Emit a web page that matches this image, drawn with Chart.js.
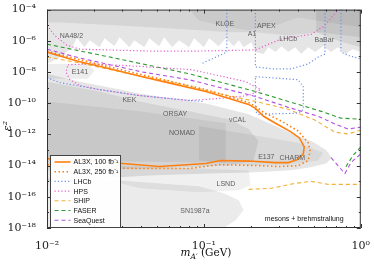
<!DOCTYPE html>
<html>
<head>
<meta charset="utf-8">
<script src="https://cdn.jsdelivr.net/npm/chart.js@4.4.1/dist/chart.umd.min.js"></script>
<style>
html, body { margin: 0; padding: 0; background: #fff; }
#chart { display: block; }
</style>
</head>
<body>
<canvas id="chart" width="374" height="264"></canvas>
<script>
// Axis ticks
const X_TICKS = [0.01, 0.1, 1];
const X_MINOR = [0.02, 0.03, 0.04, 0.05, 0.06, 0.07, 0.08, 0.09, 0.2, 0.3, 0.4, 0.5, 0.6, 0.7, 0.8, 0.9];
const Y_TICKS = [1e-18, 1e-16, 1e-14, 1e-12, 1e-10, 1e-8, 1e-6, 1e-4];
const Y_MINOR = [1e-17, 1e-15, 1e-13, 1e-11, 1e-9, 1e-7, 1e-5];

// Excluded regions (mass in GeV, epsilon^2)
const topMass = [0.01, 1, 1, 0.889, 0.792, 0.715, 0.646, 0.575, 0.512, 0.462, 0.417, 0.382, 0.345, 0.312, 0.286, 0.258, 0.240, 0.213, 0.201, 0.179, 0.167, 0.155, 0.138, 0.124, 0.108, 0.100, 0.0865, 0.0804, 0.0695, 0.0627, 0.0558, 0.0519, 0.0449, 0.0417, 0.0360, 0.0335, 0.0290, 0.0269, 0.0233, 0.0216, 0.0187, 0.0174, 0.0155, 0.0144, 0.0121, 0.01];
const topEps = [1e-4, 1e-4, 1.9e-7, 2.9e-7, 1.4e-7, 3.9e-7, 1.9e-7, 4.5e-7, 1.9e-7, 3.9e-7, 1.4e-7, 3.9e-7, 1.9e-7, 4.5e-7, 1.9e-7, 3.9e-7, 1.4e-7, 1.9e-7, 8.1e-7, 3.9e-7, 1.1e-6, 4.5e-7, 1.45e-6, 4.5e-7, 1.45e-6, 3.9e-7, 1.45e-6, 3.9e-7, 1.1e-6, 3.9e-7, 1.7e-6, 4.5e-7, 1.45e-6, 3.9e-7, 1.1e-6, 3.9e-7, 1.7e-6, 4.5e-7, 1.45e-6, 3.9e-7, 1.1e-6, 3.9e-7, 1.45e-6, 3.4e-7, 9.1e-8, 3.3e-8];
const top2Mass = [0.01, 1, 1, 0.535, 0.345, 0.213, 0.144, 0.0929, 0.0449, 0.0216, 0.0121, 0.01];
const top2Eps = [1e-4, 1e-4, 1.7e-6, 3.5e-6, 2.2e-6, 3.5e-6, 3.5e-6, 4.7e-6, 7.3e-6, 1.1e-5, 1.5e-5, 1.5e-5];
const kloeMass = [0.0804, 1, 1, 0.618, 0.399, 0.298, 0.193, 0.144, 0.0929];
const kloeEps = [1e-4, 1e-4, 7.3e-6, 1.5e-5, 3.1e-5, 1.1e-5, 4.7e-6, 7.3e-6, 2e-5];
const babarMass = [0.519, 1, 1, 0.769, 0.618, 0.519];
const babarEps = [1e-4, 1e-4, 3.9e-7, 8.1e-7, 1.7e-6, 3.5e-6];
const e141Mass = [0.01, 0.0182, 0.0201, 0.0182, 0.01];
const e141Eps = [3.3e-8, 3.3e-8, 1.2e-8, 3.7e-9, 3.7e-9];
const dumpMass = [0.01, 0.0162, 0.0251, 0.0388, 0.0627, 0.103, 0.193, 0.286, 0.382, 0.497, 0.6, 0.655, 0.6, 0.462, 0.345, 0.193, 0.108, 0.0449, 0.0216, 0.01];
const dumpEps = [7.7e-9, 2.4e-9, 1.0e-9, 4.2e-10, 2.0e-10, 9.7e-11, 1.95e-11, 3.4e-12, 9.2e-13, 3.3e-13, 1.0e-13, 3.2e-14, 1.35e-14, 7.4e-15, 4.8e-15, 3.6e-15, 3.1e-15, 2.3e-15, 1.5e-15, 8.4e-16];
const dump2Mass = [0.01, 0.0216, 0.0388, 0.0804, 0.144, 0.193, 0.223, 0.207, 0.144, 0.0449, 0.01];
const dump2Eps = [2.4e-9, 5.6e-10, 1.3e-10, 3.0e-11, 9.4e-12, 2.2e-12, 3.8e-13, 2.1e-14, 1e-14, 6.5e-15, 4.8e-15];
const dump3Mass = [0.01, 0.0388, 0.138, 0.138, 0.01];
const dump3Eps = [1.3e-10, 3.0e-11, 5.2e-12, 1.55e-14, 2.1e-14];
const charmMass = [0.0929, 0.223, 0.399, 0.575, 0.535, 0.345, 0.193, 0.0929];
const charmEps = [3.4e-12, 8e-13, 2.9e-13, 6.6e-14, 2.1e-14, 1.15e-14, 1e-14, 2.1e-14];
const lsndMass = [0.0251, 0.0929, 0.193, 0.198, 0.167, 0.0929, 0.0388, 0.0251];
const lsndEps = [1e-14, 6.5e-15, 4.8e-15, 5.4e-16, 2.6e-16, 1.95e-16, 3.5e-16, 1.1e-15];
const snMass = [0.01, 0.029, 0.0929, 0.134, 0.167, 0.179, 0.160, 0.134, 0.01];
const snEps = [1.5e-15, 1.1e-15, 4.7e-16, 1.7e-16, 6e-17, 1.4e-17, 3.3e-18, 1e-18, 1e-18];

// AL3X reach
const al3x100Mass = [0.01, 0.0155, 0.0251, 0.0405, 0.0627, 0.103, 0.138, 0.193, 0.213, 0.240, 0.286, 0.361, 0.406, 0.436, 0.430, 0.394, 0.345, 0.286, 0.193, 0.128, 0.103, 0.0519, 0.0303, 0.01];
const al3x100Eps = [1.9e-7, 5.1e-8, 1.6e-8, 5e-9, 1.8e-9, 5.6e-10, 2.3e-10, 8.4e-11, 4.7e-11, 1.45e-11, 5.2e-12, 1.4e-12, 5.9e-13, 1.6e-13, 5.7e-14, 2.4e-14, 1.55e-14, 1.55e-14, 1.95e-14, 2.1e-14, 1.35e-14, 8.7e-15, 1.35e-14, 2.8e-14];
const al3x250Mass = [0.01, 0.0155, 0.0251, 0.0405, 0.0627, 0.103, 0.138, 0.193, 0.213, 0.240, 0.312, 0.399, 0.462, 0.475, 0.462, 0.399, 0.298, 0.223, 0.124, 0.0804, 0.0388, 0.0216, 0.01];
const al3x250Eps = [2.2e-7, 6.9e-8, 2.1e-8, 6.6e-9, 2.4e-9, 7.4e-10, 3.1e-10, 1.1e-10, 6.3e-11, 2.6e-11, 7.1e-12, 1.65e-12, 2.9e-13, 8.9e-14, 2.1e-14, 1e-14, 8.7e-15, 1e-14, 1.15e-14, 6.5e-15, 6.5e-15, 7.4e-15, 1.15e-14];

// Other experiments
const lhcbAMass = [0.01, 0.0121, 0.0216, 0.0388, 0.0804, 0.1];
const lhcbAEps = [4.3e-9, 2.1e-9, 7.4e-10, 3.1e-10, 1.5e-10, 1.3e-10];
const lhcbBMass = [0.140, 0.140, 0.0957];
const lhcbBEps = [1e-4, 1.9e-7, 3.3e-8];
const lhcbCMass = [0.213, 0.213, 0.277, 0.361, 0.462, 0.535, 0.591, 0.591];
const lhcbCEps = [1e-4, 2.1e-8, 1.6e-8, 1.6e-8, 3.3e-8, 9.1e-8, 1.4e-7, 1e-4];
const lhcbDMass = [0.747, 0.747, 0.852, 1];
const lhcbDEps = [1e-4, 1.9e-7, 1.07e-7, 6.9e-8];
const lhcbEMass = [0.213, 0.399, 0.430, 0.430, 0.399, 0.223, 0.213, 0.213];
const lhcbEEps = [5e-9, 3.2e-9, 1.15e-9, 4.1e-11, 2.3e-11, 1.95e-11, 3.0e-11, 5e-9];
const hpsAMass = [0.01, 0.0112, 0.0134, 0.0162, 0.0449, 0.0929, 0.213, 0.258, 0.312, 0.483, 0.591, 0.715];
const hpsAEps = [9.7e-6, 2.2e-6, 5.2e-7, 2.9e-7, 2.2e-7, 2.2e-7, 2.6e-7, 6.1e-7, 1.3e-6, 2.6e-6, 9.7e-6, 1e-4];
const hpsBMass = [0.0136, 0.0187, 0.0335, 0.084, 0.185, 0.23, 0.193, 0.124, 0.0804, 0.0388, 0.0216, 0.0162, 0.014, 0.0132, 0.0136];
const hpsBEps = [2.9e-8, 3.3e-8, 2.5e-8, 1.4e-8, 2.4e-9, 7.4e-10, 3.1e-10, 2.0e-10, 1.5e-10, 3.1e-10, 7.4e-10, 1.35e-9, 3.2e-9, 1e-8, 2.9e-8];
const shipAMass = [0.01, 0.0162, 0.0335, 0.0695, 0.124, 0.213, 0.345, 0.512, 0.684, 0.828, 1];
const shipAEps = [9.1e-8, 3.8e-8, 7.7e-9, 1.8e-9, 4.2e-10, 1.3e-10, 4.1e-11, 8.1e-12, 1.4e-12, 1.07e-12, 1.9e-12];
const shipBMass = [0.193, 0.269, 0.382, 0.483, 0.618, 1];
const shipBEps = [3.0e-16, 3.5e-16, 7.3e-16, 9.7e-16, 6.3e-16, 6.3e-16];
const faserAMass = [0.01, 0.0251, 0.0804, 0.213, 0.345, 0.559, 0.747, 1];
const faserAEps = [6.1e-7, 9.1e-8, 7.7e-9, 5.6e-10, 1.3e-10, 3.0e-11, 1.1e-11, 9.4e-12];
const faserBMass = [1, 0.889, 0.792];
const faserBEps = [1.6e-13, 4.3e-14, 6.5e-15];
const seaAMass = [0.01, 0.0162, 0.0405, 0.0804, 0.213, 0.345, 0.535, 0.684, 0.828, 1];
const seaAEps = [2.9e-7, 7.9e-8, 1e-8, 3.2e-9, 2.7e-10, 5.4e-11, 1.45e-11, 4.6e-12, 2.2e-12, 2.9e-12];
const seaBMass = [0.646, 0.715, 0.792, 0.865, 1];
const seaBEps = [3.2e-14, 1e-14, 3.1e-15, 1.55e-14, 5.7e-14];

// Region labels
const regionLabels = ['NA48/2', 'KLOE', 'APEX', 'A1', 'LHCb', 'BaBar', 'E141', 'KEK', 'ORSAY', 'NOMAD', 'νCAL', 'E137', 'CHARM', 'LSND', 'SN1987a'];
const labelMass = [0.0143, 0.136, 0.25, 0.203, 0.345, 0.585, 0.0162, 0.0335, 0.0655, 0.0726, 0.164, 0.25, 0.366, 0.138, 0.0877];
const labelEps = [1.95e-6, 1.1e-5, 8.4e-6, 2.6e-6, 1.26e-6, 1.1e-6, 1e-8, 1.7e-10, 1.95e-11, 1.2e-12, 8.1e-12, 3.7e-14, 3.2e-14, 6.3e-16, 1.2e-17];

// Legend
const legendLabels = ['AL3X, 100 fb⁻¹', 'AL3X, 250 fb⁻¹', 'LHCb', 'HPS', 'SHIP', 'FASER', 'SeaQuest'];

const ORANGE = '#ff7f0e';
const BLUE = '#6d8fe6';
const PINK = '#e25fc9';
const YELLOW = '#f2b134';
const GREEN = '#2f9a30';
const PURPLE = '#b24fe2';
const DOT = [1.2, 2.2];
const DASH = [4, 3];

const legendStyles = [
    { color: ORANGE, dash: [], width: 1.6 },
    { color: ORANGE, dash: [1.5, 2.5], width: 1.6 },
    { color: BLUE, dash: DOT, width: 1.2 },
    { color: PINK, dash: DOT, width: 1.2 },
    { color: YELLOW, dash: DASH, width: 1.1 },
    { color: GREEN, dash: DASH, width: 1.1 },
    { color: PURPLE, dash: DASH, width: 1.1 }
];

const pts = (xs, ys) => xs.map((x, i) => ({ x, y: ys[i] }));

function region(xs, ys, alpha) {
    return {
        data: pts(xs, ys),
        fill: 'shape',
        backgroundColor: `rgba(0, 0, 0, ${alpha})`,
        borderColor: 'rgba(0, 0, 0, 0)',
        borderWidth: 0,
        pointRadius: 0,
        order: 2
    };
}

function curve(xs, ys, style) {
    return {
        data: pts(xs, ys),
        fill: false,
        borderColor: style.color,
        borderWidth: style.width,
        borderDash: style.dash,
        pointRadius: 0,
        order: 1
    };
}

const datasets = [
    curve(al3x100Mass, al3x100Eps, legendStyles[0]),
    curve(al3x250Mass, al3x250Eps, legendStyles[1]),
    curve(lhcbAMass, lhcbAEps, legendStyles[2]),
    curve(lhcbBMass, lhcbBEps, legendStyles[2]),
    curve(lhcbCMass, lhcbCEps, legendStyles[2]),
    curve(lhcbDMass, lhcbDEps, legendStyles[2]),
    curve(lhcbEMass, lhcbEEps, legendStyles[2]),
    curve(hpsAMass, hpsAEps, legendStyles[3]),
    curve(hpsBMass, hpsBEps, legendStyles[3]),
    curve(shipAMass, shipAEps, legendStyles[4]),
    curve(shipBMass, shipBEps, legendStyles[4]),
    curve(faserAMass, faserAEps, legendStyles[5]),
    curve(faserBMass, faserBEps, legendStyles[5]),
    curve(seaAMass, seaAEps, legendStyles[6]),
    curve(seaBMass, seaBEps, legendStyles[6]),
    region(topMass, topEps, 0.1),
    region(top2Mass, top2Eps, 0.07),
    region(kloeMass, kloeEps, 0.06),
    region(babarMass, babarEps, 0.08),
    region(e141Mass, e141Eps, 0.07),
    region(dumpMass, dumpEps, 0.1),
    region(dump2Mass, dump2Eps, 0.08),
    region(dump3Mass, dump3Eps, 0.06),
    region(charmMass, charmEps, 0.06),
    region(lsndMass, lsndEps, 0.06),
    region(snMass, snEps, 0.08)
];

// Helper: superscript power of ten
function powLabel(v) {
    const map = { '-': '⁻', '0': '⁰', '1': '¹', '2': '²', '3': '³', '4': '⁴', '5': '⁵', '6': '⁶', '7': '⁷', '8': '⁸', '9': '⁹' };
    const exp = String(Math.round(Math.log10(v)));
    return '10' + exp.split('').map(c => map[c]).join('');
}

// Labels, frame, inner ticks, legend and axis titles
const decor = {
    id: 'decor',
    afterDatasetsDraw(chart) {
        const { ctx, scales: { x, y } } = chart;
        ctx.save();
        ctx.font = '7px "Liberation Sans"';
        ctx.fillStyle = '#5c5c5c';
        ctx.textAlign = 'center';
        ctx.textBaseline = 'middle';
        regionLabels.forEach((t, i) => {
            ctx.fillText(t, x.getPixelForValue(labelMass[i]), y.getPixelForValue(labelEps[i]));
        });
        ctx.fillStyle = '#111';
        ctx.fillText('mesons + brehmstrallung', x.getPixelForValue(0.436), y.getPixelForValue(3.8e-18));
        ctx.restore();
    },
    afterDraw(chart) {
        const { ctx, chartArea: a, scales: { x, y } } = chart;
        ctx.save();

        // frame
        ctx.strokeStyle = '#333';
        ctx.lineWidth = 1;
        ctx.strokeRect(a.left + 0.5, a.top + 0.5, a.right - a.left - 1, a.bottom - a.top - 1);

        // inner ticks
        ctx.beginPath();
        const xt = (v, len) => {
            const px = Math.round(x.getPixelForValue(v)) + 0.5;
            ctx.moveTo(px, a.bottom); ctx.lineTo(px, a.bottom - len);
            ctx.moveTo(px, a.top); ctx.lineTo(px, a.top + len);
        };
        const yt = (v, len) => {
            const py = Math.round(y.getPixelForValue(v)) + 0.5;
            ctx.moveTo(a.left, py); ctx.lineTo(a.left + len, py);
            ctx.moveTo(a.right, py); ctx.lineTo(a.right - len, py);
        };
        X_TICKS.forEach(v => xt(v, 4));
        X_MINOR.forEach(v => xt(v, 2));
        Y_TICKS.forEach(v => yt(v, 4));
        Y_MINOR.forEach(v => yt(v, 2));
        ctx.stroke();

        // legend
        const bx = 50.5, by = 155.5, bw = 70, bh = 72;
        ctx.fillStyle = 'rgba(255, 255, 255, 0.95)';
        ctx.fillRect(bx, by, bw, bh);
        ctx.strokeStyle = '#444';
        ctx.strokeRect(bx, by, bw, bh);
        ctx.font = '7px "Liberation Sans"';
        ctx.textAlign = 'left';
        ctx.textBaseline = 'middle';
        legendLabels.forEach((t, i) => {
            const s = legendStyles[i];
            const ry = by + 6.5 + i * 9.7;
            ctx.beginPath();
            ctx.setLineDash(s.dash);
            ctx.strokeStyle = s.color;
            ctx.lineWidth = s.width;
            ctx.moveTo(bx + 4, ry);
            ctx.lineTo(bx + 20, ry);
            ctx.stroke();
            ctx.setLineDash([]);
            ctx.fillStyle = '#111';
            ctx.fillText(t, bx + 23, ry + 0.5);
        });

        // x title
        ctx.fillStyle = '#111';
        ctx.textBaseline = 'alphabetic';
        const mainFont = '10.5px "DejaVu Serif"';
        const itFont = 'italic 10.5px "DejaVu Serif"';
        const subFont = 'italic 7.5px "DejaVu Serif"';
        ctx.font = itFont; const w1 = ctx.measureText('m').width;
        ctx.font = subFont; const w2 = ctx.measureText('A′').width;
        ctx.font = mainFont; const w3 = ctx.measureText(' (GeV)').width;
        let tx = 206 - (w1 + w2 + w3) / 2;
        const ty = 256;
        ctx.font = itFont; ctx.fillText('m', tx, ty); tx += w1;
        ctx.font = subFont; ctx.fillText('A′', tx, ty + 2.5); tx += w2;
        ctx.font = mainFont; ctx.fillText(' (GeV)', tx, ty);

        // y title
        ctx.translate(11, 126);
        ctx.rotate(-Math.PI / 2);
        ctx.textAlign = 'center';
        ctx.font = 'italic 11px "DejaVu Serif"';
        ctx.fillText('ε²', 0, 0);

        ctx.restore();
    }
};

new Chart(document.getElementById('chart'), {
    type: 'line',
    data: { datasets },
    options: {
        responsive: false,
        animation: false,
        events: [],
        layout: { padding: { top: 7, right: 11, left: 0, bottom: 0 } },
        elements: { line: { tension: 0 }, point: { radius: 0 } },
        plugins: {
            legend: { display: false },
            tooltip: { enabled: false }
        },
        scales: {
            x: {
                type: 'logarithmic',
                min: 0.01,
                max: 1,
                afterBuildTicks: s => { s.ticks = X_TICKS.map(v => ({ value: v })); },
                afterFit: s => { s.height = 36; },
                grid: { display: false },
                border: { display: false },
                ticks: {
                    callback: v => powLabel(v),
                    autoSkip: false,
                    maxRotation: 0,
                    padding: 4,
                    color: '#222',
                    font: { family: 'DejaVu Serif', size: 11 }
                }
            },
            y: {
                type: 'logarithmic',
                min: 1e-18,
                max: 1e-4,
                afterBuildTicks: s => { s.ticks = Y_TICKS.map(v => ({ value: v })); },
                afterFit: s => { s.width = 47; },
                grid: { display: false },
                border: { display: false },
                ticks: {
                    callback: v => powLabel(v),
                    autoSkip: false,
                    padding: 3,
                    color: '#222',
                    font: { family: 'DejaVu Serif', size: 11 }
                }
            }
        }
    },
    plugins: [decor]
});
</script>
</body>
</html>
